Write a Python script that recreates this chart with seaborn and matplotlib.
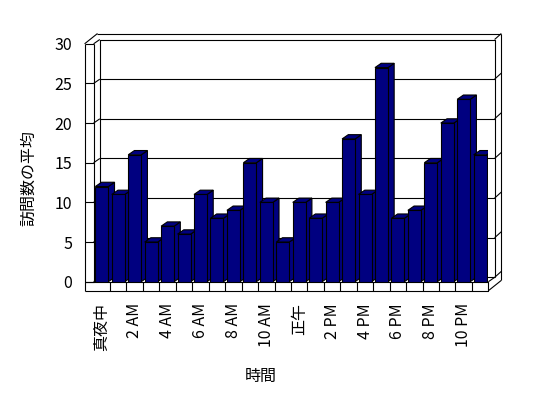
import numpy as np
import pandas as pd
import seaborn as sns
import matplotlib.pyplot as plt
from matplotlib.patches import Polygon

hours = ["真夜中", "1 AM", "2 AM", "3 AM", "4 AM", "5 AM", "6 AM", "7 AM",
         "8 AM", "9 AM", "10 AM", "11 AM", "正午", "1 PM", "2 PM", "3 PM",
         "4 PM", "5 PM", "6 PM", "7 PM", "8 PM", "9 PM", "10 PM", "11 PM"]
visits = [12, 11, 16, 5, 7, 6, 11, 8, 9, 15, 10, 5,
          10, 8, 10, 18, 11, 27, 8, 9, 15, 20, 23, 16]
yticks = [0, 5, 10, 15, 20, 25, 30]
xlabel = "時間"
ylabel = "訪問数の平均"

sns.set_theme(style="white")
plt.rcParams['font.family'] = ['Noto Sans CJK JP', 'DejaVu Sans']

W, H = 548, 398
fig = plt.figure(figsize=(W / 100, H / 100), dpi=100)
fig.patch.set_facecolor("white")

cat_px = 16.45
val_px = 7.93
left_px, base_px = 93.6, 281.7
ax = fig.add_axes([left_px / W, (H - base_px) / H,
                   cat_px * len(hours) / W, val_px * 30 / H])
ax.set_facecolor("none")

df = pd.DataFrame({"hour": hours, "visits": visits})
navy = "#000080"
LW = 0.8
sns.barplot(data=df, x="hour", y="visits", order=hours, color=navy,
            saturation=1, width=0.79, edgecolor="black", linewidth=LW, ax=ax)

x0, x1 = -0.5, len(hours) - 0.5
ymax = 30
ax.set_xlim(x0, x1)
ax.set_ylim(0, ymax)

# depth offsets (data units)
Dx, Dy = 6.2 / cat_px, 4.3 / val_px       # front plane -> back wall
Tx, Ty = 6.7 / cat_px, 6.0 / val_px       # back wall thickness
wt = 9 / cat_px                            # left wall thickness
ft = 9 / val_px                            # floor thickness

# 3D bar faces
for i, p in enumerate(ax.patches):
    bx, bw, bh = p.get_x(), p.get_width(), p.get_height()
    z = 3 + i * 0.01
    p.set_zorder(z + 0.005)
    top = Polygon([(bx, bh), (bx + bw, bh), (bx + bw + Dx, bh + Dy), (bx + Dx, bh + Dy)],
                  closed=True, facecolor=navy, edgecolor="black", linewidth=LW, zorder=z)
    side = Polygon([(bx + bw, 0), (bx + bw, bh), (bx + bw + Dx, bh + Dy), (bx + bw + Dx, Dy)],
                   closed=True, facecolor=navy, edgecolor="black", linewidth=LW, zorder=z)
    ax.add_patch(side)
    ax.add_patch(top)


def seg(xs, ys):
    ax.plot(xs, ys, color="black", lw=LW, clip_on=False, zorder=1,
            solid_capstyle="butt")

# back wall inner face
seg([x0 + Dx, x0 + Dx, x1 + Dx, x1 + Dx], [Dy, ymax + Dy, ymax + Dy, Dy])
for v in yticks[:-1]:
    seg([x0 + Dx, x1 + Dx], [v + Dy, v + Dy])
    # diagonal on left wall
    seg([x0, x0 + Dx], [v, v + Dy])
    # left wall front face grid
    seg([x0 - wt, x0], [v, v])
# back wall right side (thickness)
for v in yticks:
    seg([x1 + Dx, x1 + Dx + Tx], [v + Dy, v + Dy + Ty])
seg([x1 + Dx + Tx, x1 + Dx + Tx], [ymax + Dy + Ty, -ft + Dy + Ty])
# back wall outer top
seg([x0 - wt + Dx + Tx, x1 + Dx + Tx], [ymax + Dy + Ty, ymax + Dy + Ty])
# left wall front face
seg([x0 - wt, x0 - wt], [-ft, ymax])
seg([x0, x0], [0, ymax])
seg([x0 - wt, x0], [ymax, ymax])
# left wall top
seg([x0 - wt, x0 - wt + Dx + Tx], [ymax, ymax + Dy + Ty])
seg([x0, x0 + Dx], [ymax, ymax + Dy])
# floor front face
seg([x0 - wt, x1, x1, x0 - wt], [0, 0, -ft, -ft])
for k in range(1, len(hours)):
    seg([x0 + k, x0 + k], [0, -ft])
# floor right side
seg([x1, x1 + Dx], [0, Dy])
seg([x1, x1 + Dx + Tx], [-ft, -ft + Dy + Ty])

for s in ax.spines.values():
    s.set_visible(False)

FS = 11.5
ax.set_yticks(yticks)
ax.set_yticklabels([str(v) for v in yticks], fontsize=FS)
ax.set_xticks(range(0, len(hours), 2))
ax.set_xticklabels(hours[::2], rotation=90, fontsize=FS, va="top", ha="center")
ax.tick_params(axis="y", length=0, pad=15.5, colors="black")
ax.tick_params(axis="x", length=0, pad=15.3, colors="black")
ax.set_xlabel("")
ax.set_ylabel("")

fig.text(29 / W, 1 - 178 / H, ylabel, rotation=90, ha="center", va="center",
         fontsize=FS, color="black")
fig.text(261 / W, 1 - 376 / H, xlabel, ha="center", va="center",
         fontsize=FS, color="black")

fig.savefig("out.png", dpi=100, facecolor="white")
